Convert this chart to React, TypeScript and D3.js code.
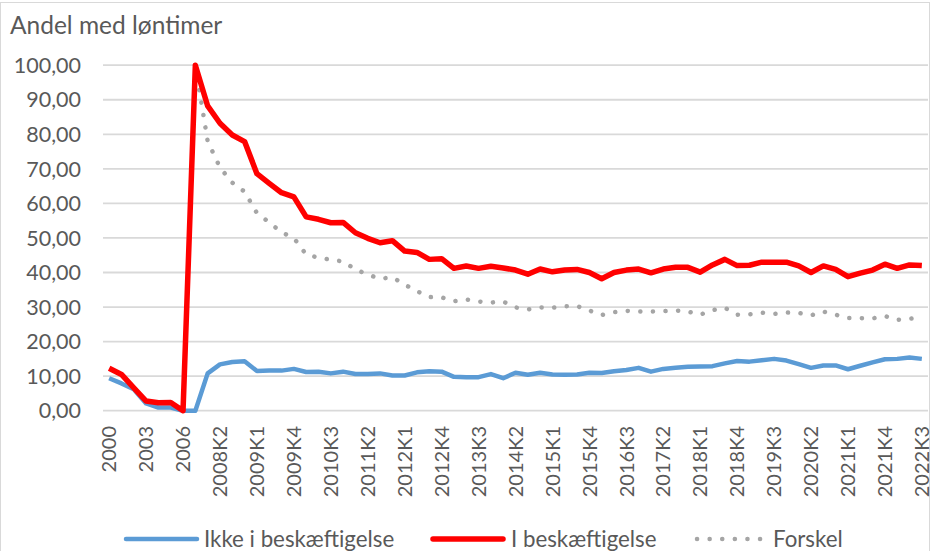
import * as d3 from "d3";

const categories = [
  "2000", "2001", "2002", "2003", "2004", "2005", "2006",
  "2007K4",
  "2008K1", "2008K2", "2008K3", "2008K4",
  "2009K1", "2009K2", "2009K3", "2009K4",
  "2010K1", "2010K2", "2010K3", "2010K4",
  "2011K1", "2011K2", "2011K3", "2011K4",
  "2012K1", "2012K2", "2012K3", "2012K4",
  "2013K1", "2013K2", "2013K3", "2013K4",
  "2014K1", "2014K2", "2014K3", "2014K4",
  "2015K1", "2015K2", "2015K3", "2015K4",
  "2016K1", "2016K2", "2016K3", "2016K4",
  "2017K1", "2017K2", "2017K3", "2017K4",
  "2018K1", "2018K2", "2018K3", "2018K4",
  "2019K1", "2019K2", "2019K3", "2019K4",
  "2020K1", "2020K2", "2020K3", "2020K4",
  "2021K1", "2021K2", "2021K3", "2021K4",
  "2022K1", "2022K2", "2022K3",
];

// Ikke i beskæftigelse
const ikke = [
  9.4, 7.9, 6.2, 2.1, 0.9, 0.9, 0, 0, 10.8, 13.4, 14.1, 14.3, 11.5, 11.6, 11.6, 12.1,
  11.2, 11.3, 10.8, 11.3, 10.6, 10.6, 10.8, 10.2, 10.2, 11.1, 11.4, 11.3, 9.8, 9.7,
  9.7, 10.6, 9.4, 11.0, 10.4, 11.0, 10.5, 10.4, 10.5, 11.0, 10.9, 11.4, 11.8, 12.4,
  11.3, 12.1, 12.4, 12.7, 12.8, 12.9, 13.7, 14.4, 14.2, 14.6, 15.0, 14.5, 13.5, 12.4,
  13.1, 13.1, 12.0, 13.0, 14.0, 14.9, 15.0, 15.4, 15.0,
];

// I beskæftigelse
const iBesk = [
  12.3, 10.5, 6.6, 2.8, 2.3, 2.4, 0, 100, 88.2, 83.2, 79.8, 77.9, 68.6, 65.8, 63.1, 61.9,
  56.1, 55.4, 54.4, 54.5, 51.5, 49.9, 48.6, 49.2, 46.2, 45.8, 43.8, 44.0, 41.2, 41.9,
  41.2, 41.8, 41.3, 40.7, 39.5, 41.0, 40.2, 40.7, 40.9, 40.0, 38.2, 40.0, 40.7, 41.0,
  39.9, 41.0, 41.5, 41.5, 40.1, 42.2, 43.8, 42.0, 42.1, 43.0, 43.0, 43.0, 41.9, 40.0,
  41.9, 40.9, 38.8, 39.8, 40.7, 42.4, 41.2, 42.2, 42.0,
];

// Forskel
const forskel: (number | null)[] = [
  null, null, null, null, null, null, null, 100, 78.0, 70.4, 66.0, 63.4, 57.2, 54.5, 51.6, 50.0,
  45.2, 44.3, 43.7, 43.2, 40.9, 39.4, 38.2, 38.6, 36.5, 34.6, 32.9, 32.8, 31.7, 32.2,
  31.6, 31.3, 31.6, 29.9, 29.3, 29.9, 29.8, 30.2, 30.3, 29.0, 27.7, 28.5, 28.9, 28.7,
  28.7, 28.8, 29.0, 28.7, 27.8, 29.1, 29.8, 27.8, 27.9, 28.4, 28.0, 28.4, 28.3, 27.6,
  28.7, 27.8, 26.8, 26.8, 26.7, 27.4, 26.3, 26.6, 27.0,
];

const yTicks = [0, 10, 20, 30, 40, 50, 60, 70, 80, 90, 100];

const W = 932;
const H = 551;
const FONT = "Lato, 'Open Sans', sans-serif";
const TEXT = "#595959";
const GRID = "#d9d9d9";

const BLUE = "#5b9bd5";
const RED = "#ff0000";
const GRAY = "#a5a5a5";

export default function App() {
  const x = d3.scalePoint<string>().domain(categories).range([103, 928]).padding(0.5);
  const y = d3.scaleLinear().domain([0, 100]).range([410.7, 65.2]);
  const fmt = (v: number) => d3.format(".2f")(v).replace(".", ",");

  const line = d3
    .line<number | null>()
    .defined((d) => d != null)
    .x((_, i) => x(categories[i])!)
    .y((d) => y(d as number));

  const legend = [
    { label: "Ikke i beskæftigelse", color: BLUE, x0: 126, x1: 197, w: 4.5, dash: undefined, gap: 7 },
    { label: "I beskæftigelse", color: RED, x0: 433, x1: 503, w: 5.5, dash: undefined, gap: 8 },
    { label: "Forskel", color: GRAY, x0: 697, x1: 763, w: 4.5, dash: "0.1 12.5", gap: 10 },
  ];

  return (
    <svg
      width={W}
      height={H}
      style={{ position: "absolute", left: 0, top: 0, display: "block", background: "#fff" }}
      fontFamily={FONT}
    >
      <rect x={0.5} y={2.5} width={929} height={560} fill="#fff" stroke={GRID} />

      <text x={10} y={34} fontSize={24.5} fill={TEXT}>
        Andel med løntimer
      </text>

      {/* gridlines + y labels */}
      {yTicks.map((t) => (
        <g key={t}>
          <line x1={103} x2={928} y1={y(t)} y2={y(t)} stroke={GRID} strokeWidth={1.8} />
          <text x={81} y={y(t)} dy="0.36em" textAnchor="end" fontSize={21.5} fill={TEXT}>
            {fmt(t)}
          </text>
        </g>
      ))}

      {/* x labels */}
      {categories.map((c, i) =>
        i % 3 === 0 ? (
          <text
            key={c}
            transform={`translate(${x(c)},426) rotate(-90)`}
            dy="0.36em"
            textAnchor="end"
            fontSize={20}
            fill={TEXT}
          >
            {c}
          </text>
        ) : null
      )}

      {/* series */}
      <path d={line(forskel) ?? ""} fill="none" stroke={GRAY} strokeWidth={4.5}
        strokeLinecap="round" strokeDasharray="0.1 12.5" />
      <path d={line(ikke) ?? ""} fill="none" stroke={BLUE} strokeWidth={4.5} strokeLinejoin="round" />
      <path d={line(iBesk) ?? ""} fill="none" stroke={RED} strokeWidth={5.5} strokeLinejoin="round" />

      {/* legend */}
      {legend.map((l) => (
        <g key={l.label}>
          <line x1={l.x0} x2={l.x1} y1={539} y2={539} stroke={l.color} strokeWidth={l.w}
            strokeLinecap="round" strokeDasharray={l.dash} />
          <text x={l.x1 + l.gap} y={546.5} fontSize={22.3} fill={TEXT}>
            {l.label}
          </text>
        </g>
      ))}
    </svg>
  );
}
